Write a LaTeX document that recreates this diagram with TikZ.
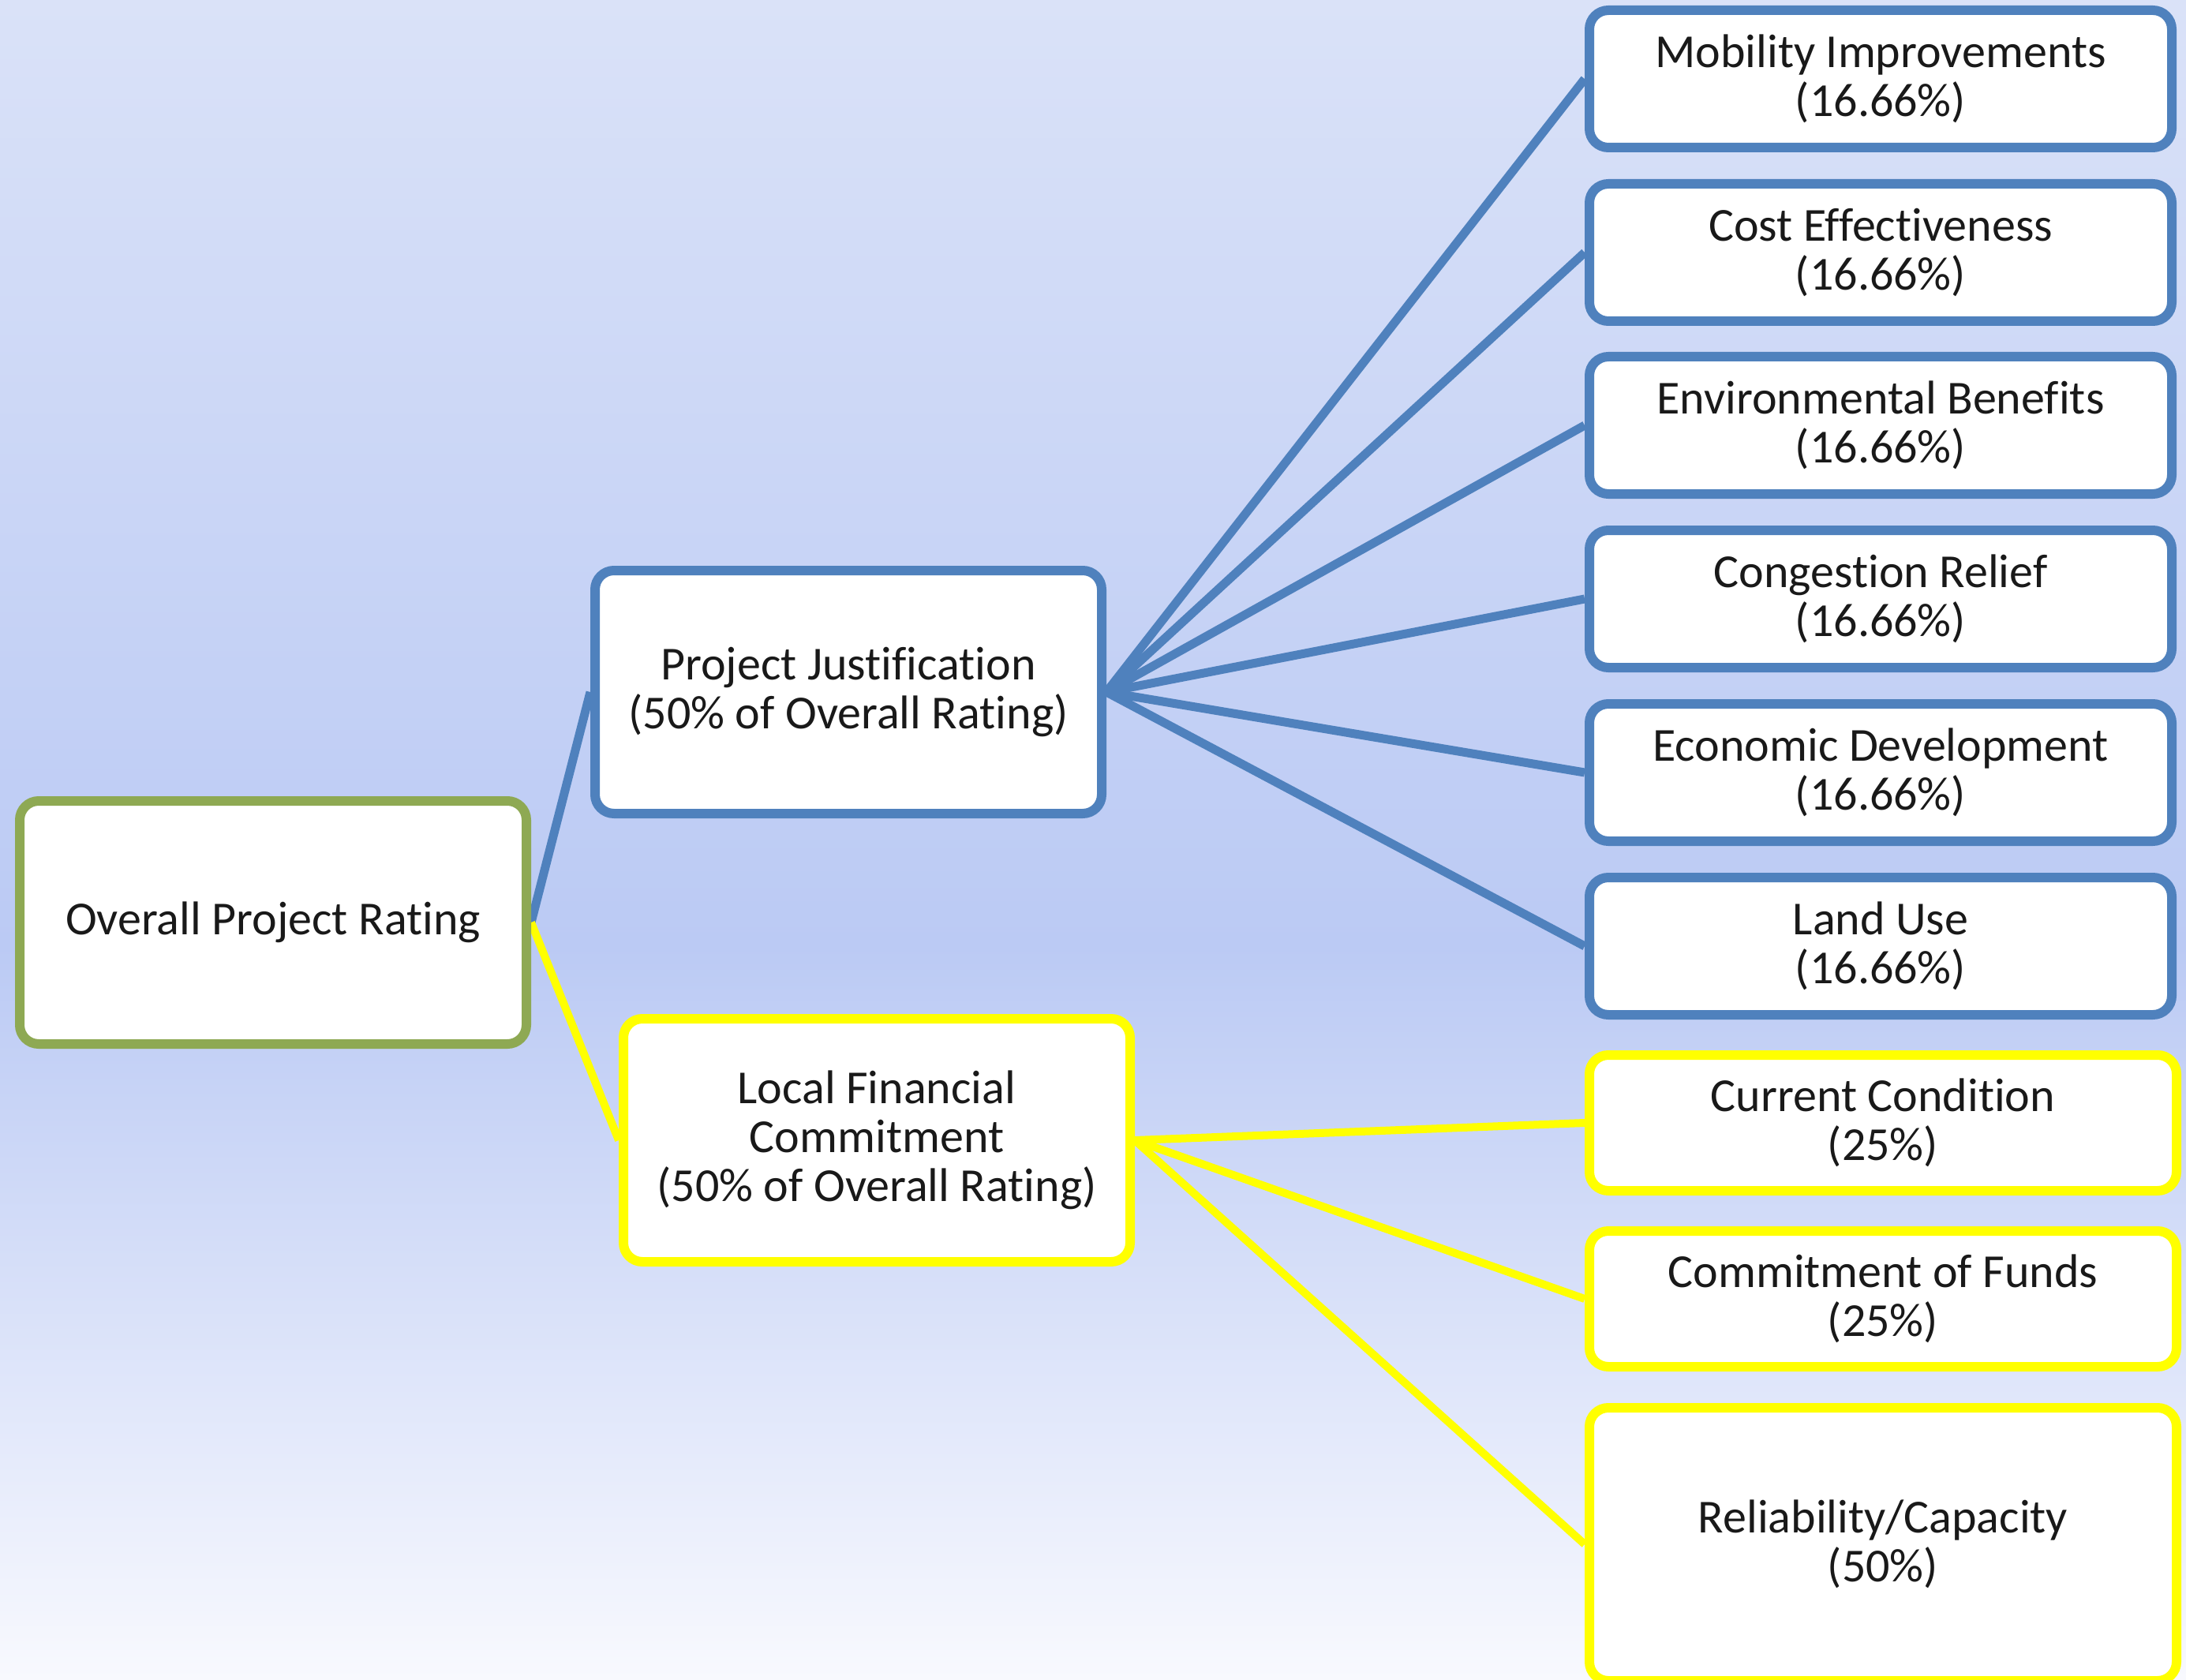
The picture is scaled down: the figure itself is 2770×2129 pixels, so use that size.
\documentclass[tikz,border=0pt]{standalone}
\usepackage{fontspec}
\setmainfont{Carlito}[RawFeature={-liga;-clig}]
\definecolor{bgtop}{RGB}{218,226,248}
\definecolor{bgmid}{RGB}{187,202,244}
\definecolor{bgbot}{RGB}{248,249,254}
\definecolor{pblue}{RGB}{79,129,189}
\definecolor{pgreen}{RGB}{142,169,83}
\definecolor{pyellow}{RGB}{255,255,0}
\definecolor{ptext}{RGB}{25,25,25}
\pgfdeclarelayer{shadelayer}
\pgfdeclarelayer{linklayer}
\pgfsetlayers{shadelayer,linklayer,main}
\begin{document}
\begin{tikzpicture}[x=0.5pt,y=-0.5pt,
  box/.style={fill=white, rounded corners=12pt, line width=6pt,
    align=center, inner sep=0pt, text=ptext,
    font=\fontsize{30}{31}\selectfont},
  midbox/.style={box, minimum width=321pt, minimum height=154pt},
  rbox/.style={box, draw=pblue, minimum width=369pt, minimum height=87pt},
  ybox/.style={box, draw=pyellow, minimum width=372pt, minimum height=86pt},
  bluelink/.style={draw=pblue, line width=5.5pt},
  yellowlink/.style={draw=pyellow, line width=5pt}]
\useasboundingbox (0,0) rectangle (2770,2129);
\clip (0,0) rectangle (2770,2129);
\begin{pgfonlayer}{shadelayer}
  \shade[top color=bgtop, bottom color=bgmid] (0,0) rectangle (2770,1200);
  \shade[top color=bgmid, bottom color=bgbot] (0,1199) rectangle (2770,2129);
\end{pgfonlayer}

\node[midbox, draw=pgreen] (overall) at (346,1169) {Overall Project Rating};
\node[midbox, draw=pblue] (pj) at (1075,877) {Project Justification\\(50\% of Overall Rating)};
\node[midbox, draw=pyellow] (lfc) at (1111,1445) {Local Financial\\Commitment\\(50\% of Overall Rating)};

\node[rbox] (mob) at (2383,100) {Mobility Improvements\\(16.66\%)};
\node[rbox] (cost) at (2383,320) {Cost Effectiveness\\(16.66\%)};
\node[rbox] (env) at (2383,539) {Environmental Benefits\\(16.66\%)};
\node[rbox] (cong) at (2383,759) {Congestion Relief\\(16.66\%)};
\node[rbox] (econ) at (2383,979) {Economic Development\\(16.66\%)};
\node[rbox] (land) at (2383,1199) {Land Use\\(16.66\%)};

\node[ybox] (curr) at (2386,1423) {Current Condition\\(25\%)};
\node[ybox] (funds) at (2386,1646) {Commitment of Funds\\(25\%)};
\node[ybox, minimum height=173pt] (rel) at (2386,1957) {Reliability/Capacity\\(50\%)};

\begin{pgfonlayer}{linklayer}
  \draw[bluelink] (overall.east) -- (pj.west);
  \draw[yellowlink] (overall.east) -- (lfc.west);
  \foreach \t in {mob,cost,env,cong,econ,land}
    \draw[bluelink] (pj.east) -- (\t.west);
  \foreach \t in {curr,funds,rel}
    \draw[yellowlink] (lfc.east) -- (\t.west);
\end{pgfonlayer}
\end{tikzpicture}
\end{document}
